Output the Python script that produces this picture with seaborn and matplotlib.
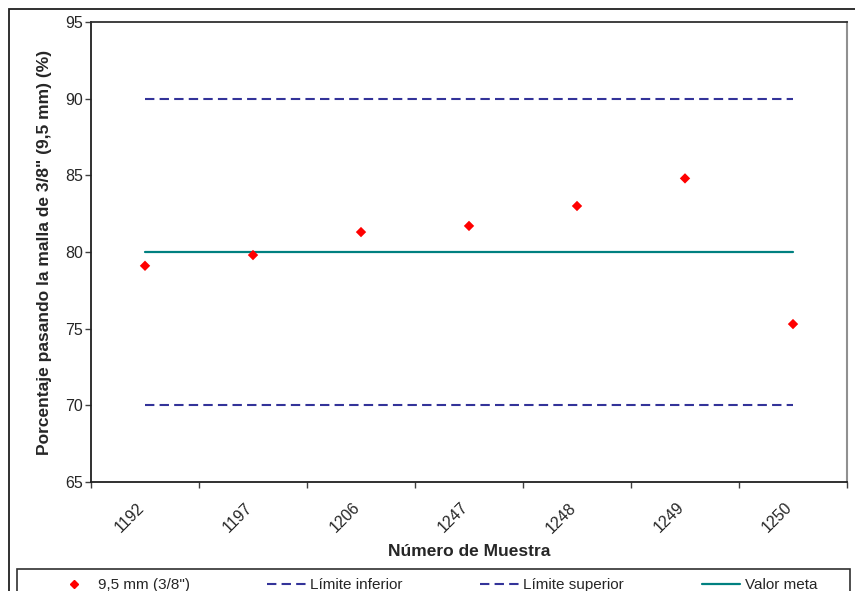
import numpy as np
import pandas as pd
import seaborn as sns
import matplotlib.pyplot as plt
from matplotlib.patches import Rectangle
from matplotlib.lines import Line2D
from matplotlib.ticker import FixedLocator, NullFormatter, FixedFormatter

# datos
muestras = ["1192", "1197", "1206", "1247", "1248", "1249", "1250"]
pasa_95mm = [79.1, 79.8, 81.3, 81.7, 83.0, 84.8, 75.3]
limite_inferior = [70, 70, 70, 70, 70, 70, 70]
limite_superior = [90, 90, 90, 90, 90, 90, 90]
valor_meta = [80, 80, 80, 80, 80, 80, 80]

df = pd.DataFrame({
    "pos": np.arange(len(muestras)),
    "muestra": muestras,
    "pasa": pasa_95mm,
    "inf": limite_inferior,
    "sup": limite_superior,
    "meta": valor_meta,
})

sns.set_style("white")
plt.rcParams["font.family"] = ["Liberation Sans", "DejaVu Sans"]

fig = plt.figure(figsize=(8.55, 5.91), dpi=100)
W, H = 855, 591
ax = fig.add_axes([91 / W, 1 - 482 / H, (847 - 91) / W, (482 - 22) / H])

azul = "#333399"
guion = (4.5, 2.5)
sns.lineplot(data=df, x="pos", y="inf", ax=ax, color=azul, lw=1.5, zorder=2)
ax.lines[-1].set_dashes(guion)
sns.lineplot(data=df, x="pos", y="sup", ax=ax, color=azul, lw=1.5, zorder=2)
ax.lines[-1].set_dashes(guion)
sns.lineplot(data=df, x="pos", y="meta", ax=ax, color="#008080", lw=1.6, zorder=2)
sns.scatterplot(data=df, x="pos", y="pasa", ax=ax, marker="D", color="#ff0000",
                s=28, edgecolor="none", zorder=3)

ax.set_xlim(-0.5, len(muestras) - 0.5)
ax.set_ylim(65, 95)
ax.set_yticks(np.arange(65, 96, 5))

# ticks en los limites de categoria, etiquetas al centro
ax.xaxis.set_major_locator(FixedLocator(np.arange(-0.5, len(muestras), 1.0)))
ax.xaxis.set_major_formatter(NullFormatter())
ax.xaxis.set_minor_locator(FixedLocator(df["pos"].values))
ax.xaxis.set_minor_formatter(FixedFormatter(muestras))
ax.tick_params(axis="x", which="major", direction="out", length=4, width=1, color="#404040", bottom=True)
ax.tick_params(axis="x", which="minor", length=0, pad=19, labelsize=11.5, bottom=True)
for lab in ax.get_xticklabels(minor=True):
    lab.set_rotation(45)
    lab.set_ha("right")
    lab.set_va("baseline")
    lab.set_rotation_mode("anchor")
ax.tick_params(axis="y", direction="out", length=4, width=1, color="#404040", pad=2,
               labelsize=11.5, left=True)

for s in ["left", "bottom"]:
    ax.spines[s].set_color("#202020")
    ax.spines[s].set_linewidth(1.3)
ax.spines["top"].set_color("#303030")
ax.spines["top"].set_linewidth(1.3)
ax.spines["right"].set_color("#909090")
ax.spines["right"].set_linewidth(1.5)

ax.set_xlabel("Número de Muestra", fontsize=12.5, fontweight="bold")
ax.set_ylabel("Porcentaje pasando la malla de 3/8\" (9,5 mm) (%)", fontsize=12.5, fontweight="bold")
ax.xaxis.set_label_coords(0.5, -(544 - 482) / 460)
ax.yaxis.set_label_coords((52.5 - 91) / 756, 0.5)

# marco exterior del grafico (recortado a la derecha y abajo)
fig.patches.append(Rectangle((9 / W, -0.1), 1.1, 1 - 9 / H + 0.1, transform=fig.transFigure,
                             fill=False, edgecolor="#202020", lw=1.3, zorder=0))
# marco de la leyenda
fig.patches.append(Rectangle((17 / W, -0.1), (850 - 17) / W, 1 - 569 / H + 0.1,
                             transform=fig.transFigure, fill=False, edgecolor="#303030",
                             lw=1.2, zorder=0))

handles = [
    Line2D([], [], marker="D", color="#ff0000", ls="none", markersize=4.5),
    Line2D([], [], color=azul, lw=1.5, dashes=guion),
    Line2D([], [], color=azul, lw=1.5, dashes=guion),
    Line2D([], [], color="#008080", lw=1.6),
]
labels = ["9,5 mm (3/8\")", "Límite inferior", "Límite superior", "Valor meta"]
leg = fig.legend(handles, labels, ncol=4, loc="upper left",
                 bbox_to_anchor=(55 / W, 1 - 579 / H, (817 - 55) / W, 0.001),
                 mode="expand", fontsize=11, frameon=False, borderpad=0,
                 handlelength=2.5, handletextpad=0.3, borderaxespad=0)

fig.savefig("out.png", dpi=100)
